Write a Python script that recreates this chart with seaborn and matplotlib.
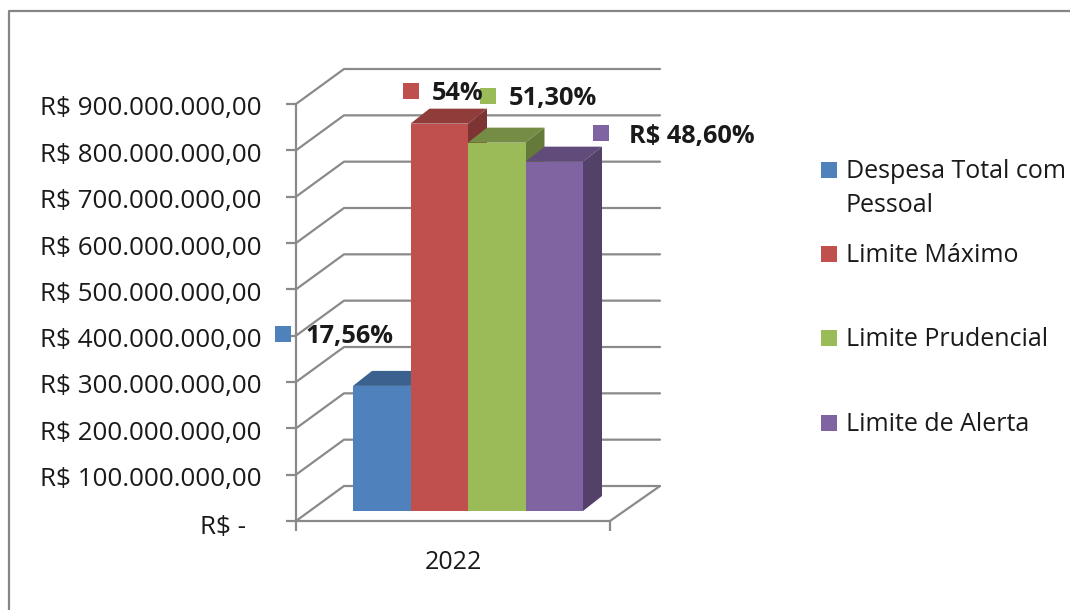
import matplotlib
matplotlib.use("Agg")
import matplotlib.pyplot as plt
import matplotlib.colors as mcolors
import pandas as pd
import seaborn as sns
from matplotlib.lines import Line2D
from matplotlib.patches import Polygon, Rectangle
from matplotlib.transforms import ScaledTranslation

# Data
anos = ["2022"]
series = ["Despesa Total com Pessoal", "Limite Máximo", "Limite Prudencial", "Limite de Alerta"]
valores = [270000000, 836000000, 795000000, 754000000]
cores = ["#4F81BD", "#C0504D", "#9BBB59", "#8064A2"]
rotulos = ["17,56%", "54%", "51,30%", "R$ 48,60%"]
y_ticks = [0, 100000000, 200000000, 300000000, 400000000, 500000000, 600000000, 700000000, 800000000, 900000000]
y_labels = ["R$ -"] + [f"R$ {i}00.000.000,00" for i in range(1, 10)]

W, H = 1070, 610
CINZA = "#8A8A8A"
TEXTO = "#1a1a1a"
FONTE = 18

sns.set_style("white")
plt.rcParams["font.family"] = ["Open Sans", "DejaVu Sans"]


def fx(x):
    return x / W


def fy(y):
    return 1 - y / H


def box(left, right, bottom, top):
    return [fx(left), fy(bottom), fx(right) - fx(left), fy(top) - fy(bottom)]


fig = plt.figure(figsize=(W / 100, H / 100), dpi=100)

# Front plane of the chart: walls, floor and axis
ax = fig.add_axes(box(296, 610, 521, 104))
ax.set_xlim(-0.5, 0.5)
ax.set_ylim(0, 900000000)
ax.patch.set_alpha(0)
for lado in ["top", "right"]:
    ax.spines[lado].set_visible(False)
for lado in ["left", "bottom"]:
    ax.spines[lado].set_color(CINZA)
    ax.spines[lado].set_linewidth(1.6)

px_y = 900000000 / 417
fundo_dx, fundo_dy = 48 / 314, 35 * px_y
trans = ax.get_yaxis_transform()
for t in y_ticks:
    ax.plot([0, fundo_dx, 1 + 50 / 314], [t, t + fundo_dy, t + fundo_dy],
            color=CINZA, lw=1.6, transform=trans, clip_on=False)
ax.plot([1 + 50 / 314, 1], [fundo_dy, 0], color=CINZA, lw=1.6, transform=trans, clip_on=False)

ax.set_yticks(y_ticks)
ax.set_yticklabels(y_labels, fontsize=18.7, color=TEXTO)
ax.tick_params(axis="y", left=True, length=7, width=1.6, color=CINZA, pad=18)
ax.set_xticks([-0.5, 0.5])
ax.set_xticklabels(["", ""])
ax.tick_params(axis="x", bottom=True, length=7, width=1.6, color=CINZA)
ax.set_xticks([0], labels=anos, minor=True, fontsize=FONTE, color=TEXTO)
ax.tick_params(axis="x", which="minor", bottom=False, pad=19)

# Labels sit a little low, and "R$ -" further left and lower than the others
for i, lbl in enumerate(ax.get_yticklabels()):
    dx, dy = (-15, -4) if i == 0 else (0, -2)
    lbl.set_transform(lbl.get_transform() + ScaledTranslation(dx / 100, dy / 100, fig.dpi_scale_trans))

# Bars sit a bit inside the floor, so they get their own shifted axes
bar_ax = fig.add_axes(box(311, 625, 511, 94))
df = pd.DataFrame({"ano": anos * len(series), "serie": series, "valor": valores})
sns.barplot(data=df, x="ano", y="valor", hue="serie", hue_order=series, palette=cores,
            width=230 / 314, gap=0, saturation=1, legend=False, linewidth=0, ax=bar_ax)
bar_ax.set_xlim(-0.5, 0.5)
bar_ax.set_ylim(0, 900000000)
bar_ax.axis("off")
bar_ax.patch.set_alpha(0)


def escurece(cor, f):
    r, g, b = mcolors.to_rgb(cor)
    return (r * f, g * f, b * f)


# 3D faces of each bar, painted left to right
prof_x, prof_y = 19 / 314, 15 * px_y
for i, (container, cor) in enumerate(zip(bar_ax.containers, cores)):
    bar = container[0]
    x0, larg, alt = bar.get_x(), bar.get_width(), bar.get_height()
    x1 = x0 + larg
    bar.set_zorder(3 * i + 3)
    bar_ax.add_patch(Polygon([(x0, alt), (x1, alt), (x1 + prof_x, alt + prof_y), (x0 + prof_x, alt + prof_y)],
                             closed=True, fc=escurece(cor, 0.75), ec="none", zorder=3 * i + 2, clip_on=False))
    bar_ax.add_patch(Polygon([(x1, 0), (x1 + prof_x, prof_y), (x1 + prof_x, alt + prof_y), (x1, alt)],
                             closed=True, fc=escurece(cor, 0.65), ec="none", zorder=3 * i + 2, clip_on=False))


def quadrado(x, y, cor, lado=16):
    fig.add_artist(Rectangle((fx(x - lado / 2), fy(y + lado / 2)), lado / W, lado / H, fc=cor, ec="none",
                             transform=fig.transFigure, zorder=5))


# Data labels
pos_rotulos = [(283, 334, 305, 336), (411, 91, 432, 93), (488, 96, 509, 98), (601, 133, 629, 136)]
for (qx, qy, tx, ty), cor, rot in zip(pos_rotulos, cores, rotulos):
    quadrado(qx, qy, cor)
    fig.text(fx(tx), fy(ty), rot, fontsize=18.3, fontweight="bold", color=TEXTO, va="center", ha="left", zorder=6)

# Legend
pos_legenda = [(829, 170), (829, 254), (829, 338), (829, 423)]
nomes_legenda = [["Despesa Total com", "Pessoal"], ["Limite Máximo"], ["Limite Prudencial"], ["Limite de Alerta"]]
for (qx, qy), cor, linhas in zip(pos_legenda, cores, nomes_legenda):
    quadrado(qx, qy, cor)
    for j, linha in enumerate(linhas):
        fig.text(fx(846), fy(qy + 8 + 34 * j), linha, fontsize=FONTE, color=TEXTO, va="baseline", ha="left", zorder=6)

# Outer frame of the chart area
fig.add_artist(Line2D([fx(9), fx(9), 1], [0, fy(11), fy(11)], color="#868686", lw=1.6, transform=fig.transFigure))

fig.savefig("out.png", dpi=100)
